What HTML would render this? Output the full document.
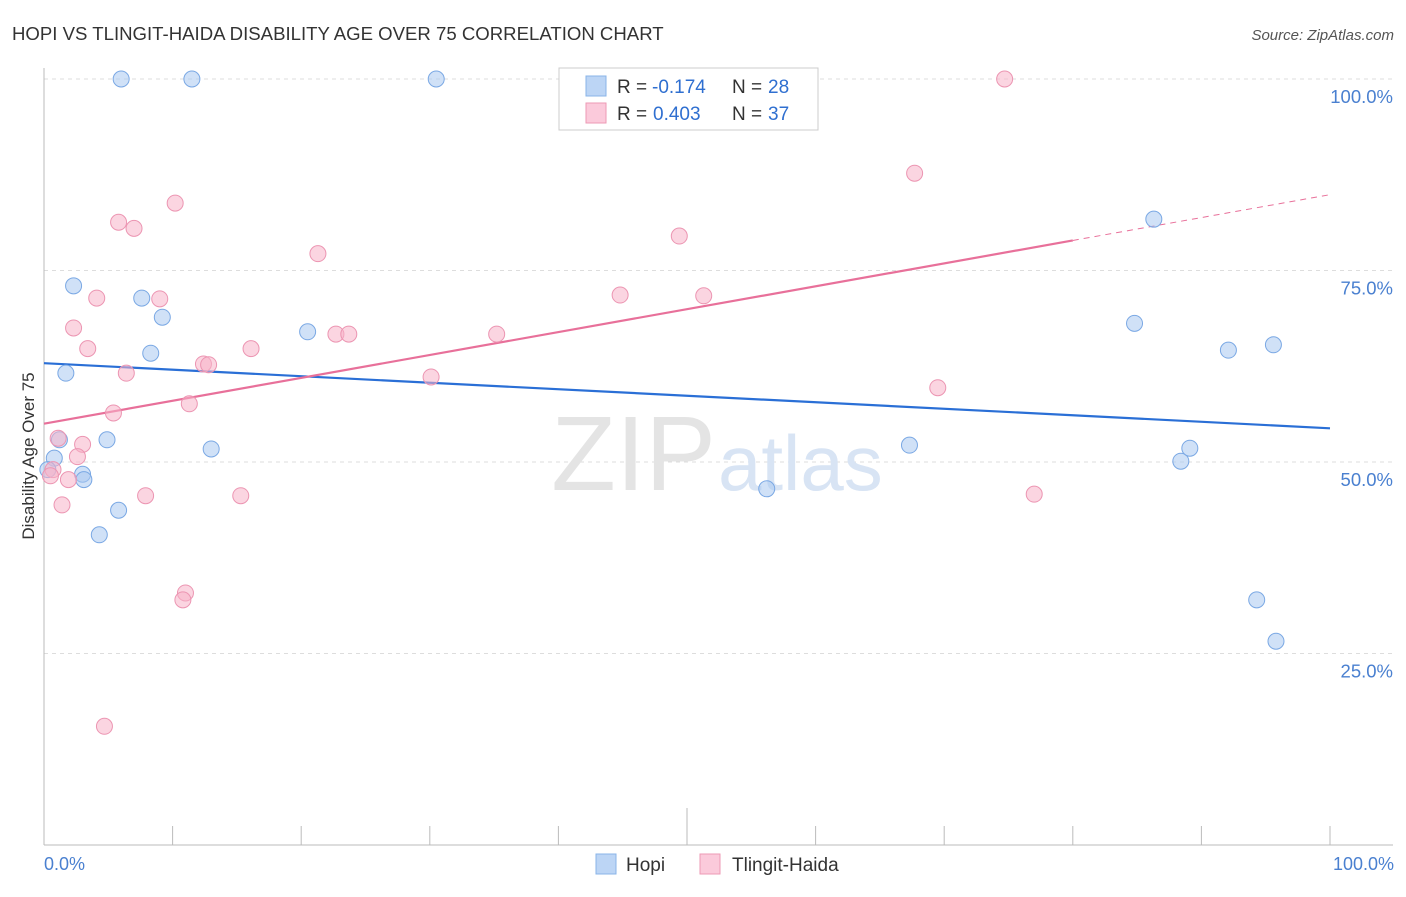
<!DOCTYPE html>
<html><head><meta charset="utf-8"><style>
body{margin:0;background:#fff;font-family:"Liberation Sans",sans-serif;}
svg text{font-family:"Liberation Sans",sans-serif;}
</style></head><body>
<svg width="1406" height="892" viewBox="0 0 1406 892">
<text x="12" y="40" font-size="18.6" fill="#333">HOPI VS TLINGIT-HAIDA DISABILITY AGE OVER 75 CORRELATION CHART</text>
<text x="1394" y="40" font-size="15" fill="#555" font-style="italic" text-anchor="end">Source: ZipAtlas.com</text>
<g id="grid"></g>
<text x="716" y="490" font-size="106" fill="#e4e4e4" text-anchor="end" font-family="Liberation Serif">ZIP</text>
<text x="718" y="490" font-size="78" fill="#d8e4f4">atlas</text>
<line x1="44" y1="68" x2="44" y2="845" stroke="#bbb"/>
<line x1="44" y1="845" x2="1393" y2="845" stroke="#bbb"/>
<text transform="translate(34,456) rotate(-90)" font-size="17" fill="#333" text-anchor="middle">Disability Age Over 75</text>
<text x="44" y="870" font-size="18" fill="#4a80d0">0.0%</text>
<text x="1394" y="870" font-size="18" fill="#4a80d0" text-anchor="end">100.0%</text>
<g id="ticks"></g>
<g id="lines"></g>
<g id="points"></g>
<g>
<rect x="559" y="68" width="259" height="62" fill="#fff" stroke="#ccc"/>
<rect x="586" y="76" width="20" height="20" fill="#bcd5f5" stroke="#8ab4e8"/>
<rect x="586" y="103" width="20" height="20" fill="#fbcadb" stroke="#ee9ab5"/>
<text x="617" y="93" font-size="19" fill="#333">R =</text>
<text x="652" y="93" font-size="19" fill="#2f6fd0">-0.174</text>
<text x="732" y="93" font-size="19" fill="#333">N =</text>
<text x="768" y="93" font-size="19" fill="#2f6fd0">28</text>
<text x="617" y="120" font-size="19" fill="#333">R =</text>
<text x="653" y="120" font-size="19" fill="#2f6fd0">0.403</text>
<text x="732" y="120" font-size="19" fill="#333">N =</text>
<text x="768" y="120" font-size="19" fill="#2f6fd0">37</text>
</g>
<g>
<rect x="596" y="854" width="20" height="20" fill="#bcd5f5" stroke="#8ab4e8"/>
<text x="626" y="871" font-size="19" fill="#333">Hopi</text>
<rect x="700" y="854" width="20" height="20" fill="#fbcadb" stroke="#ee9ab5"/>
<text x="732" y="871" font-size="19" fill="#333">Tlingit-Haida</text>
</g>
</svg>
<script>
const yTicks=[25,50,75,100];
const xTicks=[0,10,20,30,40,50,60,70,80,90,100];
const hopiX=[6.0,11.5,30.5,2.3,7.6,9.2,8.3,1.7,20.5,1.2,4.9,0.8,3.0,3.1,0.3,5.8,4.3,13.0,56.2,67.3,84.8,86.3,92.1,95.6,88.4,89.1,94.3,95.8];
const hopiY=[100,100,100,73.0,71.4,68.9,64.2,61.6,67.0,52.9,52.9,50.5,48.4,47.7,49.0,43.7,40.5,51.7,46.5,52.2,68.1,81.7,64.6,65.3,50.1,51.8,32.0,26.6];
const tlX=[74.7,67.7,10.2,5.8,7.0,21.3,49.4,4.1,9.0,44.8,51.3,2.3,22.7,23.7,35.2,3.4,16.1,12.4,12.8,6.4,30.1,69.5,11.3,5.4,1.1,3.0,2.6,0.7,1.9,0.5,7.9,15.3,1.4,77.0,11.0,10.8,4.7];
const tlY=[100,87.7,83.8,81.3,80.5,77.2,79.5,71.4,71.3,71.8,71.7,67.5,66.7,66.7,66.7,64.8,64.8,62.8,62.7,61.6,61.1,59.7,57.6,56.4,53.1,52.3,50.7,49.0,47.7,48.2,45.6,45.6,44.4,45.8,32.9,32.0,15.5];
const hopiTrend=[62.9,54.4];
const tlTrend=[55.0,84.9];
const tlSolidEnd=80;
const NS='http://www.w3.org/2000/svg';
const sx=v=>44+v*12.86;
const sy=v=>845-v*7.66;
function mk(tag,attrs,parent){const e=document.createElementNS(NS,tag);for(const k in attrs)e.setAttribute(k,attrs[k]);document.getElementById(parent).appendChild(e);return e;}
yTicks.forEach(t=>{
 const l=mk('line',{x1:44,x2:1393,y1:sy(t),y2:sy(t),stroke:'#ddd','stroke-dasharray':'4,4'},'grid');
 
 
 const tx=mk('text',{x:1393,y:sy(t)+24,'font-size':18.5,fill:'#4a80d0','text-anchor':'end'},'grid');
 tx.textContent=t.toFixed(1)+'%';
 
 
});
xTicks.forEach(t=>{
 const l=mk('line',{x1:sx(t),x2:sx(t),y1:t===50?808:826,y2:845,stroke:'#bbb'},'ticks');
 
 
});
function trend(v,color,name,dashFrom){
 const f=x=>v[0]+(v[1]-v[0])*x/100;
 const a=mk('line',{x1:sx(0),y1:sy(f(0)),x2:sx(dashFrom),y2:sy(f(dashFrom)),stroke:color,'stroke-width':2.2},'lines');
 
 
 if(dashFrom<100){
  const b=mk('line',{x1:sx(dashFrom),y1:sy(f(dashFrom)),x2:sx(100),y2:sy(f(100)),stroke:color,'stroke-width':1,'stroke-dasharray':'6,5'},'lines');
  
  
 }
}
trend(hopiTrend,'#2a6fd6','hopi',100);
trend(tlTrend,'#e8709a','tlingit',tlSolidEnd);
function pts(xs,ys,fill,stroke,name){
 xs.forEach((x,i)=>{
  const c=mk('circle',{cx:sx(x),cy:sy(ys[i]),r:8,fill:fill,'fill-opacity':0.55,stroke:stroke,'stroke-width':1},'points');
  
  
 });
}
pts(hopiX,hopiY,'#a9c8f0','#7aa8e4','hopi');
pts(tlX,tlY,'#f7b3c9','#ec95b2','tlingit');
</script>
</body></html>
